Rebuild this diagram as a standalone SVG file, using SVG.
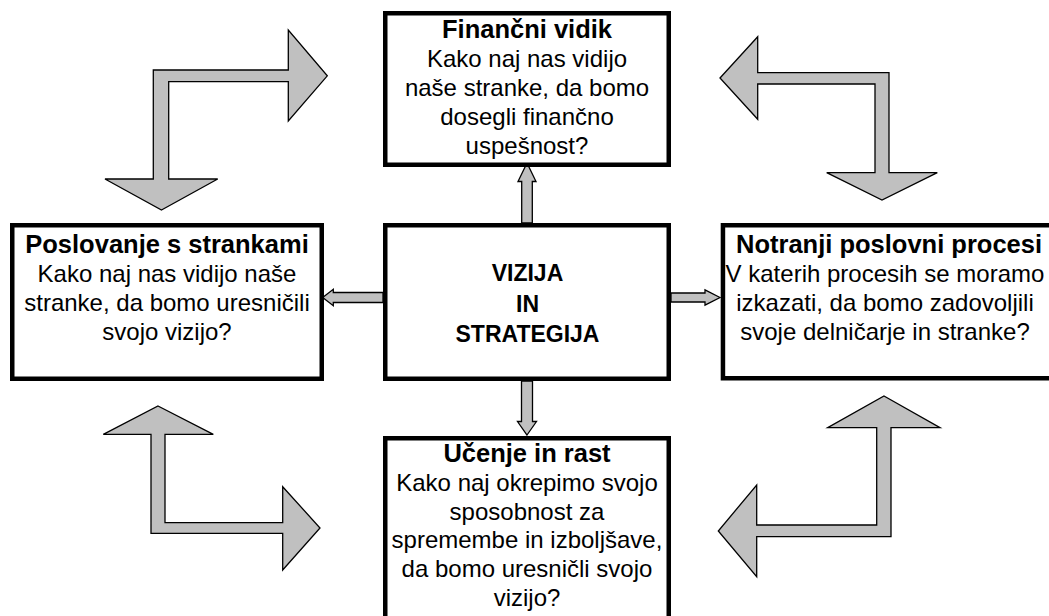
<svg xmlns="http://www.w3.org/2000/svg" width="1049" height="616" viewBox="0 0 1049 616">
<style>
.box{fill:#fff;stroke:#000;stroke-width:4.5}
.t{font-family:"Liberation Sans",Arial,sans-serif;fill:#000;text-anchor:middle}
.h{font-size:25.5px;font-weight:bold}
.b{font-size:24px}
.c{font-size:23px;font-weight:bold}
.arr{fill:#c0c0c0;stroke:#000;stroke-width:1.3;stroke-linejoin:miter}
</style>
<rect width="1049" height="616" fill="#fff"/>
<g id="cycle-arrows">
<polygon class="arr" points="161.5,210 217.7,179 168.7,179 168.7,81.7 288.3,81.7 288.3,121 327.3,75.8 288.3,30 288.3,70 153.3,70 153.3,179 105,179"/>
<polygon class="arr" points="720,78 757.7,36.7 757.7,72.7 889,72.7 889,172.7 937.3,172.7 882,200 826.7,172.7 875,172.7 875,84 757.7,84 757.7,119.3"/>
<polygon class="arr" points="158,406 213.3,434.3 165,434.3 165,522.7 282.7,522.7 282.7,486.7 320,528 282.7,570 282.7,533.3 151,533.3 151,434.3 103.3,434.3"/>
<polygon class="arr" points="884,396 940,427.7 891,427.7 891,536.7 756.7,536.7 756.7,576.7 718.3,531 756.7,485 756.7,525 876.7,525 876.7,427.7 827.7,427.7"/>
</g>
<g id="connectors">
<polygon class="arr" points="527,163 536,181.5 532.3,181.5 532.3,223 521.7,223 521.7,181.5 518,181.5"/>
<polygon class="arr" points="527,435 536.5,421.5 532.5,421.5 532.5,381 521.5,381 521.5,421.5 517.5,421.5"/>
<polygon class="arr" points="322.7,297.5 333.3,289.3 333.3,292.5 383,292.5 383,302.5 333.3,302.5 333.3,305.7"/>
<polygon class="arr" points="720,297.5 705,289.8 705,293 671,293 671,302 705,302 705,305.2"/>
</g>
<g id="node-financni">
<rect class="box" x="385.25" y="13.25" width="283.5" height="151.5"/>
<text class="t h" x="527" y="38">Finančni vidik</text>
<text class="t b" x="527" y="67">Kako naj nas vidijo</text>
<text class="t b" x="527" y="96">naše stranke, da bomo</text>
<text class="t b" x="527" y="125">dosegli finančno</text>
<text class="t b" x="527" y="154">uspešnost?</text>
</g>
<g id="node-vizija">
<rect class="box" x="385.25" y="225.25" width="283.5" height="153.5"/>
<text class="t c" x="527.5" y="281">VIZIJA</text>
<text class="t c" x="527.5" y="312">IN</text>
<text class="t c" x="527.5" y="342">STRATEGIJA</text>
</g>
<g id="node-poslovanje">
<rect class="box" x="12.25" y="225.25" width="309.5" height="153.5"/>
<text class="t h" x="167" y="253">Poslovanje s strankami</text>
<text class="t b" x="167" y="282">Kako naj nas vidijo naše</text>
<text class="t b" x="167" y="311">stranke, da bomo uresničili</text>
<text class="t b" x="167" y="340">svojo vizijo?</text>
</g>
<g id="node-notranji">
<rect class="box" x="722.95" y="225.25" width="330" height="153"/>
<text class="t h" x="889" y="253">Notranji poslovni procesi</text>
<text class="t b" x="885" y="282">V katerih procesih se moramo</text>
<text class="t b" x="885" y="311">izkazati, da bomo zadovoljili</text>
<text class="t b" x="885" y="340">svoje delničarje in stranke?</text>
</g>
<g id="node-ucenje">
<rect class="box" x="385.25" y="438.25" width="283.5" height="190"/>
<text class="t h" x="527" y="462">Učenje in rast</text>
<text class="t b" x="527" y="491">Kako naj okrepimo svojo</text>
<text class="t b" x="527" y="519.5">sposobnost za</text>
<text class="t b" x="527" y="548">spremembe in izboljšave,</text>
<text class="t b" x="527" y="577">da bomo uresničli svojo</text>
<text class="t b" x="527" y="605.5">vizijo?</text>
</g>
</svg>
